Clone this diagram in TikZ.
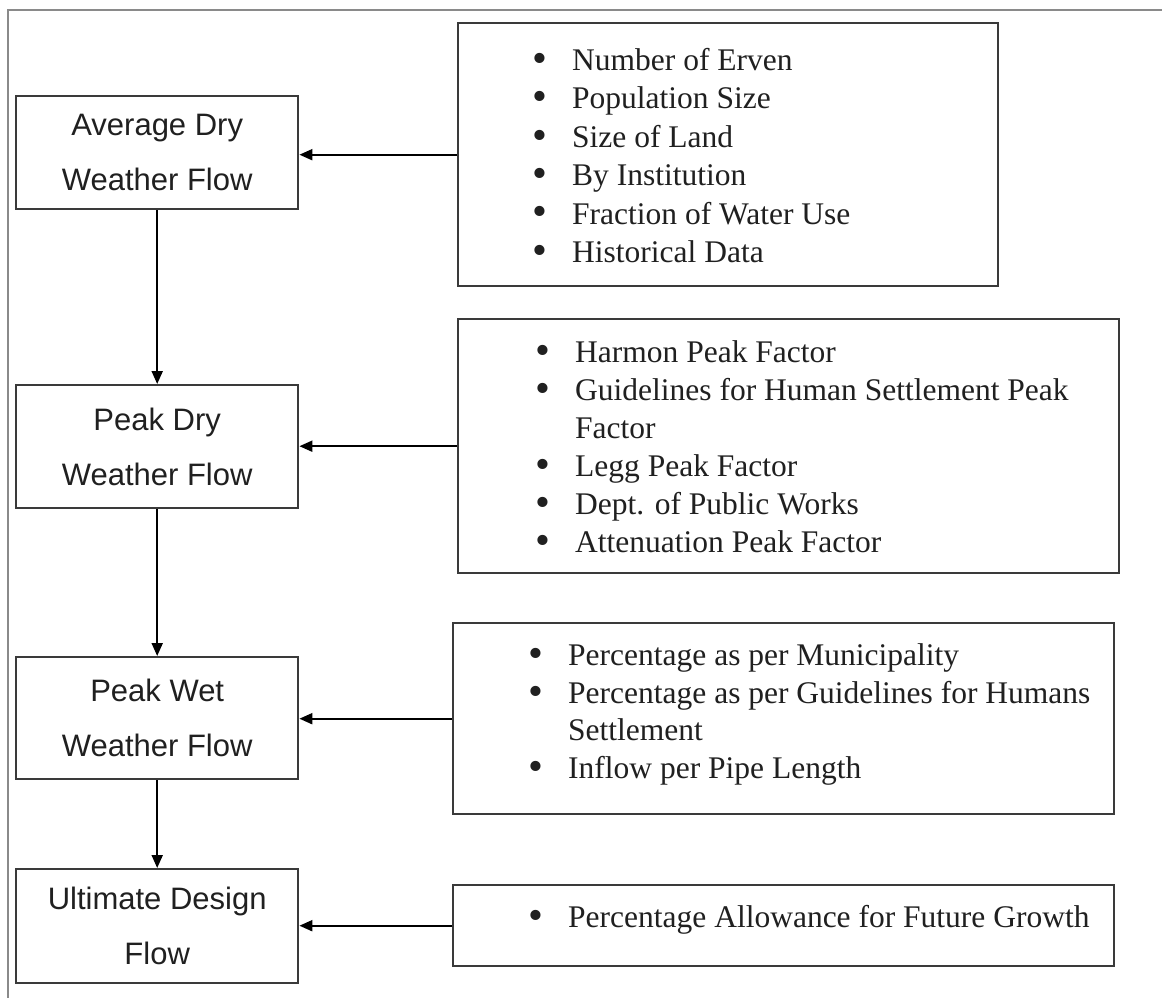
\documentclass[tikz,border=0pt]{standalone}
\usepackage{fontspec}
\usepackage{graphicx}
\setmainfont{Liberation Serif}
\newfontfamily\arialf{Liberation Sans}
\usetikzlibrary{arrows.meta}
\definecolor{boxc}{HTML}{3A3A3A}
\definecolor{txtc}{HTML}{202020}
\definecolor{framec}{HTML}{8A8A8A}
\newcommand{\bul}{\llap{\raisebox{-0.06em}{\scalebox{1.35}{\textbullet}}\hspace{25pt}}}
\begin{document}
\begin{tikzpicture}[x=1pt,y=-1pt,
  flowbox/.style={draw=boxc, line width=2.4pt, anchor=north west, minimum width=282pt, minimum height=113pt, inner sep=0pt, align=center, text=txtc, font=\arialf\fontsize{31}{55}\selectfont},
  listbox/.style={draw=boxc, line width=2.4pt, anchor=north west, inner sep=0pt},
  listtext/.style={anchor=base west, align=left, inner sep=0pt, text=txtc, font=\fontsize{31.5}{38.4}\selectfont},
  conn/.style={draw=black, line width=2pt, -{Triangle[length=13pt,width=11pt]}}
]
\useasboundingbox (0,0) rectangle (1162,998);
\fill[white] (0,0) rectangle (1162,998);
\draw[framec, line width=1.6pt] (1162,10) -- (8,10) -- (8,998);

% left flow boxes
\node[flowbox] (a) at (15,95) {Average Dry\\Weather Flow};
\node[flowbox, minimum height=123pt] (b) at (15,384) {Peak Dry\\Weather Flow};
\node[flowbox, minimum height=122pt] (c) at (15,656) {Peak Wet\\Weather Flow};
\node[flowbox, minimum height=114pt] (d) at (15,868) {Ultimate Design\\Flow};

% right list boxes
\node[listbox, minimum width=540pt, minimum height=263pt] (r1) at (457,22) {};
\node[listbox, minimum width=661pt, minimum height=254pt] (r2) at (457,318) {};
\node[listbox, minimum width=661pt, minimum height=191pt] (r3) at (452,622) {};
\node[listbox, minimum width=661pt, minimum height=81pt] (r4) at (452,884) {};

% list texts (anchored at the baseline of their last line)
\node[listtext] (t1) at (572,262.5) {\bul Number of Erven\\\bul Population Size\\\bul Size of Land\\\bul By Institution\\\bul Fraction of Water Use\\\bul Historical Data};
\node[listtext, font=\fontsize{31.5}{38}\selectfont] (t2) at (575,552.5) {\bul Harmon Peak Factor\\\bul Guidelines for Human Settlement Peak\\Factor\\\bul Legg Peak Factor\\\bul Dept. of Public Works\\\bul Attenuation Peak Factor};
\node[listtext, font=\fontsize{31.5}{37.7}\selectfont] (t3) at (568,778.6) {\bul Percentage as per Municipality\\\bul Percentage as per Guidelines for Humans\\Settlement\\\bul Inflow per Pipe Length};
\node[listtext] (t4) at (568,927.5) {\bul Percentage Allowance for Future Growth};

% vertical connectors
\draw[conn] (a.south) -- (b.north);
\draw[conn] (b.south) -- (c.north);
\draw[conn] (c.south) -- (d.north);

% horizontal connectors
\draw[conn] (r1.west) -- (r1.west -| a.east);
\draw[conn] (r2.west) -- (r2.west -| b.east);
\draw[conn] (r3.west) -- (r3.west -| c.east);
\draw[conn] (r4.west) -- (r4.west -| d.east);
\end{tikzpicture}
\end{document}
